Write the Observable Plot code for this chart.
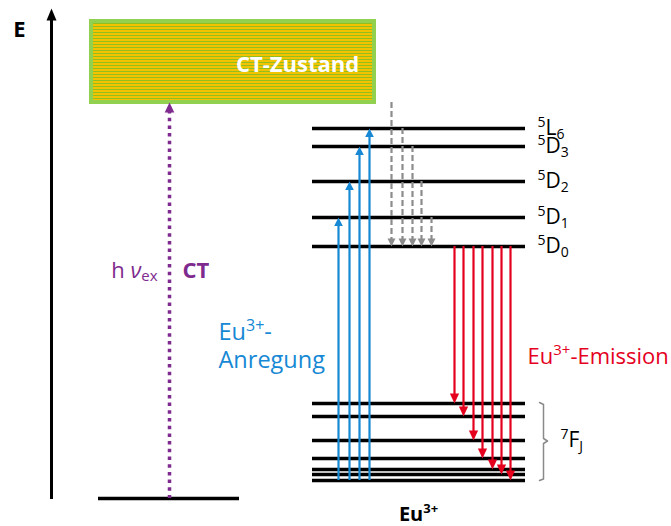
<!DOCTYPE html>
<html>
<head>
<meta charset="utf-8">
<script src="https://cdn.jsdelivr.net/npm/d3@7"></script>
<script src="https://cdn.jsdelivr.net/npm/@observablehq/plot@0.6"></script>
<style>
  body { margin: 0; background: #fff; }
  #chart { width: 671px; height: 526px; }
</style>
</head>
<body>
<div id="chart"></div>
<script>
// Schematic energy scale (arbitrary units, 0 = host ground state)
const groundEnergy = 0;
const axisTop = 49;
const ctBand = [39.6, 47.7];                 // CT state, lower and upper edge
const excitedNames = ["5D0", "5D1", "5D2", "5D3", "5L6"];
const excitedLabels = ["^{5}D_{0}", "^{5}D_{1}", "^{5}D_{2}", "^{5}D_{3}", "^{5}L_{6}"];
const excitedEnergy = [25.2, 28.1, 31.7, 35.2, 37.0];
const multipletEnergy = [9.5, 8.2, 5.8, 4.0, 2.9, 2.4, 1.8]; // 7F_J sublevels
const excitationTargets = ["5D1", "5D2", "5D3", "5L6"];      // Eu3+ absorption from 7F
const relaxationSources = ["CT", "5L6", "5D3", "5D2", "5D1"]; // non-radiative decay to 5D0

// Colours
const blue = "#1688d4", red = "#e5001e", purple = "#7e2a8e", grey = "#8c8c8c";

// Horizontal layout (pixels)
const axisX = 51;
const groundSpan = [98, 239];
const ctSpan = [91, 374];
const ctLabelX = 297;
const ctArrowX = 169;
const euSpan = [312, 525];
const excitationX = [338, 349, 359, 369];
const relaxationX = [391, 402, 412, 421, 431];
const emissionX = [454, 463, 473, 482, 492, 501, 510];
const labelX = 537;

const energyOf = name => name === "CT" ? ctBand[0] : excitedEnergy[excitedNames.indexOf(name)];
const lowestF = d3.min(multipletEnergy);
const highestF = d3.max(multipletEnergy);
const d0 = energyOf("5D0");

// Filled arrowhead with the tip at the origin, pointing up (length = k * half-width)
const head = k => ({
  draw(context, size) {
    const r = Math.sqrt(size / Math.PI);
    context.moveTo(0, 0);
    context.lineTo(-r, k * r);
    context.lineTo(r, k * r);
    context.closePath();
  }
});

const excitation = excitationTargets.map((t, i) => ({x: excitationX[i], top: energyOf(t), bottom: lowestF}));
const relaxation = relaxationSources.map((s, i) => ({x: relaxationX[i], top: energyOf(s), bottom: d0}));
const emission = multipletEnergy.map((e, i) => ({x: emissionX[i], top: d0, bottom: e}));

const font = "'Open Sans', 'Noto Sans', sans-serif";

// 7F_J brace, derived from the multiplet's extent
const midF = (highestF + lowestF) / 2 + 0.1;
const brace = [
  {x: 539, y: highestF + 0.1}, {x: 543, y: highestF - 0.1},
  {x: 543, y: midF + 0.25}, {x: 547, y: midF}, {x: 543, y: midF - 0.25},
  {x: 543, y: lowestF + 0.15}, {x: 539, y: lowestF}
];

const svg = Plot.plot({
  width: 671,
  height: 526,
  margin: 0,
  style: {fontFamily: font, background: "#fff", overflow: "visible"},
  x: {domain: [0, 671], range: [0, 671], axis: null},
  y: {domain: [0, axisTop], range: [498, 8], axis: null},
  marks: [
    // energy axis
    Plot.ruleX([axisX], {y1: axisTop, y2: groundEnergy - 0.1, stroke: "#000", strokeWidth: 3, insetTop: 10}),
    Plot.dot([axisTop], {x: axisX, y: d => d, symbol: head(2.4), r: 5, fill: "#000", stroke: "none"}),
    Plot.text(["E"], {x: axisX - 32, y: axisTop, dy: 28.5, text: d => d, fontSize: 22, fontWeight: "bold", lineAnchor: "bottom", fill: "#000"}),

    // CT state
    Plot.rect([ctBand], {x1: ctSpan[0], x2: ctSpan[1], y1: d => d[0], y2: d => d[1], fill: "url(#ctStripes)", stroke: "#92d050", strokeWidth: 4}),
    Plot.text(["CT-Zustand"], {x: ctLabelX, y: d3.mean(ctBand), dy: 3, text: d => d, fontSize: 22, fontWeight: "bold", fill: "#fff", lineAnchor: "middle"}),

    // host ground level and CT excitation
    Plot.ruleY([groundEnergy], {x1: groundSpan[0], x2: groundSpan[1], stroke: "#000", strokeWidth: 3.5}),
    Plot.ruleX([ctArrowX], {y1: ctBand[0], y2: groundEnergy, stroke: purple, strokeWidth: 3.5, strokeDasharray: "3.5,4.2", insetTop: 8}),
    Plot.dot([ctBand[0]], {x: ctArrowX, y: d => d, symbol: head(2.1), r: 4.8, fill: purple, stroke: "none"}),
    Plot.text(["h *{ν}_{ex}"], {x: ctArrowX - 12, y: 22.1, text: d => d, fontSize: 22, fill: purple, textAnchor: "end", lineAnchor: "bottom"}),
    Plot.text(["CT"], {x: ctArrowX + 13, y: 22.1, text: d => d, fontSize: 22, fontWeight: "bold", fill: purple, textAnchor: "start", lineAnchor: "bottom"}),

    // Eu3+ levels
    Plot.ruleY(excitedEnergy, {x1: euSpan[0], x2: euSpan[1], stroke: "#000", strokeWidth: 3.5}),
    Plot.ruleY(multipletEnergy, {x1: euSpan[0], x2: euSpan[1], stroke: "#000", strokeWidth: 3.5}),
    Plot.text(excitedLabels, {x: labelX, y: (d, i) => excitedEnergy[i], dy: 6.5, text: d => d, fontSize: 21, fill: "#000", textAnchor: "start", lineAnchor: "bottom"}),

    // excitation (blue)
    Plot.ruleX(excitation, {x: "x", y1: "top", y2: "bottom", stroke: blue, strokeWidth: 2.2, insetTop: 7}),
    Plot.dot(excitation, {x: "x", y: "top", symbol: head(2.0), r: 4.3, fill: blue, stroke: "none"}),
    Plot.text(["Eu^{3+}-\nAnregung"], {x: 218, y: 13.1, text: d => d, fontSize: 23.5, lineHeight: 1.16, fill: blue, textAnchor: "start", lineAnchor: "bottom"}),

    // relaxation (grey, dashed)
    Plot.ruleX(relaxation, {x: "x", y1: "top", y2: "bottom", stroke: grey, strokeWidth: 2.2, strokeDasharray: "6,3", insetBottom: 6}),
    Plot.dot(relaxation, {x: "x", y: "bottom", symbol: head(2.0), r: 4, rotate: 180, fill: grey, stroke: "none"}),

    // emission (red)
    Plot.ruleX(emission, {x: "x", y1: "top", y2: "bottom", stroke: red, strokeWidth: 2.2, insetBottom: 8}),
    Plot.dot(emission, {x: "x", y: "bottom", symbol: head(2.2), r: 4.6, rotate: 180, fill: red, stroke: "none"}),
    Plot.text(["Eu^{3+}-Emission"], {x: 527, y: 13.47, text: d => d, fontSize: 22, fill: red, textAnchor: "start", lineAnchor: "bottom"}),

    // 7F_J brace and label
    Plot.line(brace, {x: "x", y: "y", stroke: "#8a8a8a", strokeWidth: 1.5}),
    Plot.text(["^{7}F_{J}"], {x: 560, y: midF, dy: 6, text: d => d, fontSize: 21, fill: "#000", textAnchor: "start", lineAnchor: "bottom"}),

    // ion label
    Plot.text(["Eu^{3+}"], {x: 418, y: -2.2, text: d => d, fontSize: 20, fontWeight: "bold", fill: "#000", lineAnchor: "bottom"})
  ]
});

// Stripe fill for the CT band
const defs = d3.select(svg).insert("defs", ":first-child");
const pattern = defs.append("pattern").attr("id", "ctStripes")
  .attr("patternUnits", "userSpaceOnUse").attr("width", 4).attr("height", 3);
pattern.append("rect").attr("width", 4).attr("height", 3).attr("fill", "#f3c300");
pattern.append("rect").attr("y", 2).attr("width", 4).attr("height", 1).attr("fill", "#92bf1e");

document.getElementById("chart").appendChild(svg);

// Superscripts ^{..}, subscripts _{..} and italics *{..} in labels
const svgNS = "http://www.w3.org/2000/svg";
function richText(node, fs) {
  const markup = node.textContent;
  if (!/[\^_*]\{/.test(markup)) return;
  const parts = markup.split(/([\^_*]\{[^}]*\})/).filter(s => s);
  node.textContent = "";
  let shift = 0;
  for (const p of parts) {
    let target = 0, str = p, small = false, italic = false;
    if (p.startsWith("^{")) { target = -0.4 * fs; str = p.slice(2, -1); small = true; }
    else if (p.startsWith("_{")) { target = 0.18 * fs; str = p.slice(2, -1); small = true; }
    else if (p.startsWith("*{")) { str = p.slice(2, -1); italic = true; }
    const t = document.createElementNS(svgNS, "tspan");
    t.setAttribute("dy", target - shift);
    shift = target;
    if (small) t.setAttribute("font-size", Math.round(fs * 0.66));
    if (italic) t.setAttribute("font-style", "italic");
    t.textContent = str;
    node.appendChild(t);
  }
}
svg.querySelectorAll("text").forEach(node => {
  const fs = parseFloat(getComputedStyle(node).fontSize);
  const lines = node.querySelectorAll(":scope > tspan");
  if (lines.length) lines.forEach(line => richText(line, fs));
  else richText(node, fs);
});
</script>
</body>
</html>
